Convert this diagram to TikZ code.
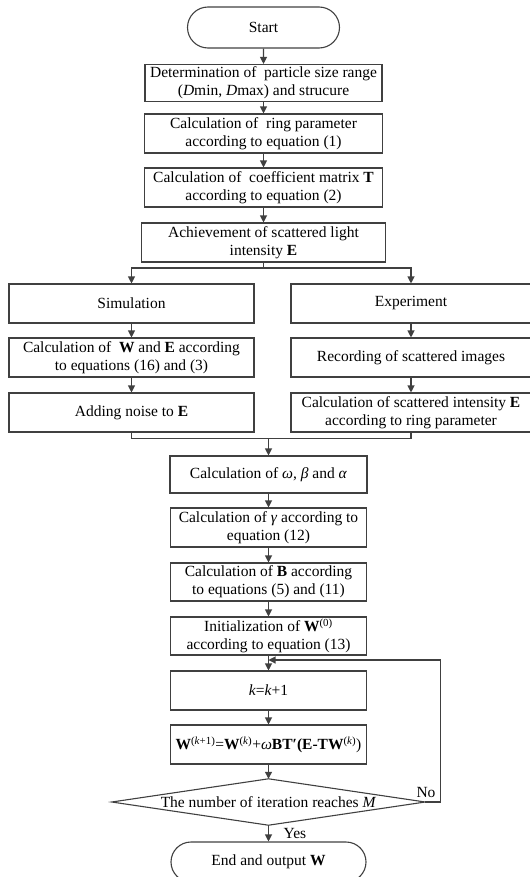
\documentclass[tikz,border=0pt]{standalone}
\usepackage{fontspec}
\setmainfont{Liberation Serif}
\usetikzlibrary{arrows.meta,shapes.misc}
\definecolor{lc}{RGB}{64,64,64}
\begin{document}
\begin{tikzpicture}[x=1bp,y=-1bp,
  every node/.style={font=\fontsize{15.5bp}{18bp}\selectfont, text=black},
  box/.style={draw=lc, line width=1.1bp, rectangle, inner sep=0pt, align=center},
  term/.style={draw=lc, line width=1.1bp, rounded rectangle, inner sep=0pt, align=center},
  conn/.style={draw=lc, line width=1.1bp},
  arr/.style={conn, -{Triangle[length=7bp,width=7bp]}}]
\useasboundingbox (0,0) rectangle (530,877);

% top column
\node[term, minimum width=152bp, minimum height=41bp] (start) at (263.5,27.5) {Start};
\node[box, minimum width=237bp, minimum height=37bp] (b1) at (263.5,83) {Determination of\ \ particle size range\\(\textit{D}min, \textit{D}max) and strucure};
\node[box, minimum width=238bp, minimum height=39bp] (b2) at (263.5,133.5) {Calculation of\ \ ring parameter\\according to equation (1)};
\node[box, minimum width=238bp, minimum height=39bp] (b3) at (263.5,187.5) {Calculation of\ \ coefficient matrix \textbf{T}\\according to equation (2)};
\node[box, minimum width=244bp, minimum height=39bp] (b4) at (263.5,242.5) {Achievement of scattered light\\intensity \textbf{E}};

% two columns
\node[box, minimum width=245bp, minimum height=39bp] (sim1) at (131.5,303.5) {Simulation};
\node[box, minimum width=245bp, minimum height=39bp] (sim2) at (131.5,357.5) {Calculation of\ \ \textbf{W} and \textbf{E} according\\to equations (16) and (3)};
\node[box, minimum width=245bp, minimum height=39bp] (sim3) at (131.5,412.5) {Adding noise to \textbf{E}};
\node[box, minimum width=240bp, minimum height=39bp] (exp1) at (411,303.5) {Experiment};
\node[box, minimum width=240bp, minimum height=39bp] (exp2) at (411,357.5) {Recording of scattered images};
\node[box, minimum width=240bp, minimum height=39bp] (exp3) at (411,412.5) {Calculation of scattered intensity \textbf{E}\\according to ring parameter};

% bottom column
\node[box, minimum width=197bp, minimum height=37bp] (om) at (268.5,474.5) {Calculation of \textit{ω}, \textit{β} and \textit{α}};
\node[box, minimum width=196bp, minimum height=39bp] (ga) at (268.5,527.5) {Calculation of \textit{γ} according to\\equation (12)};
\node[box, minimum width=196bp, minimum height=38bp] (bb) at (268.5,582) {Calculation of \textbf{B} according\\to equations (5) and (11)};
\node[box, minimum width=196bp, minimum height=38bp] (init) at (268.5,636) {Initialization of \textbf{W}\textsuperscript{(0)}\\according to equation (13)};
\node[box, minimum width=196bp, minimum height=39bp] (kk) at (268.5,690.5) {\textit{k}=\textit{k}+1};
\node[box, minimum width=196bp, minimum height=39bp] (ww) at (268.5,744.5) {\textbf{W}\textsuperscript{(\textit{k}+1)}=\textbf{W}\textsuperscript{(\textit{k})}+\textit{ω}\textbf{BT′(E-TW}\textsuperscript{(\textit{k})})};
\node[minimum width=313bp, minimum height=46bp, inner sep=0pt] (dec) at (268.5,802) {};
\draw[conn] (dec.west) -- (dec.north) -- (dec.east) -- (dec.south) -- cycle;
\node (dectext) at (dec.center) {The number of iteration reaches \textit{M}};
\node[term, minimum width=195bp, minimum height=40bp] (endn) at (268.5,862) {End and output \textbf{W}};

\node (no) at (426,792) {No};
\node (yes) at (295,833) {Yes};

% connectors
\draw[arr] (start) -- (b1);
\draw[arr] (b1) -- (b2);
\draw[arr] (b2) -- (b3);
\draw[arr] (b3) -- (b4);
\coordinate (split) at (263.5,268);
\draw[conn] (b4.south) -- (split);
\draw[arr] (split) -| (sim1.north);
\draw[arr] (split) -| (exp1.north);
\draw[arr] (sim1) -- (sim2);
\draw[arr] (sim2) -- (sim3);
\draw[arr] (exp1) -- (exp2);
\draw[arr] (exp2) -- (exp3);
\coordinate (merge) at (268.5,438);
\draw[conn] (sim3.south) -- ++(0,5.5) -| (exp3.south);
\draw[arr] (merge) -- (om.north);
\draw[arr] (om) -- (ga);
\draw[arr] (ga) -- (bb);
\draw[arr] (bb) -- (init);
\draw[arr] (init) -- (kk);
\draw[arr] (kk) -- (ww);
\draw[arr] (ww.south) -- (dec.north);
\draw[arr] (dec.south) -- (endn.north);
\coordinate (loopin) at (268.5,660);
\draw[arr] (dec.east) -- ++(15,0) |- (loopin);
\end{tikzpicture}
\end{document}
